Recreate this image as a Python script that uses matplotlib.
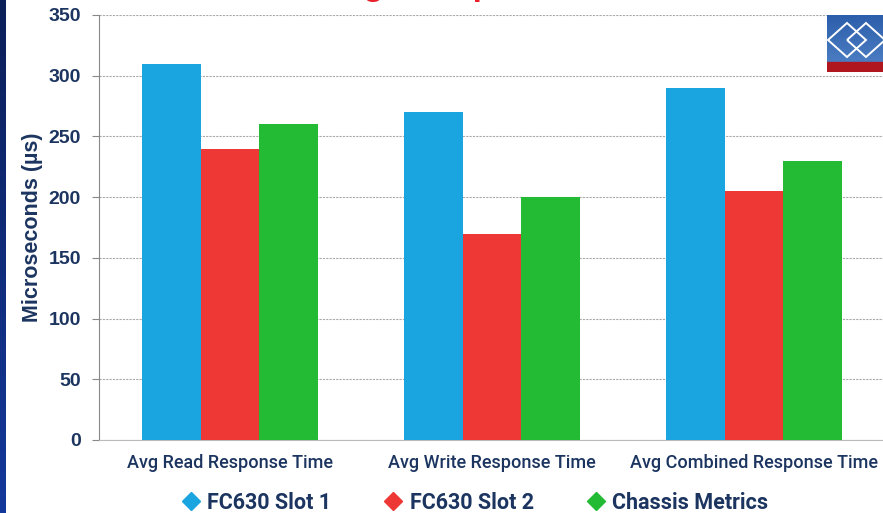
import matplotlib
matplotlib.use("Agg")
import matplotlib.pyplot as plt
from matplotlib.lines import Line2D
from matplotlib.patches import Polygon, Rectangle
from matplotlib.colors import LinearSegmentedColormap
import numpy as np

categories = ["Avg Read Response Time", "Avg Write Response Time",
              "Avg Combined Response Time"]
series_names = ["FC630 Slot 1", "FC630 Slot 2", "Chassis Metrics"]
slot1 = [310, 270, 290]
slot2 = [240, 170, 205]
chassis = [260, 200, 230]
y_ticks = [0, 50, 100, 150, 200, 250, 300, 350]

colors = ["#1aa5e1", "#ee3835", "#22bb33"]
navy = "#1c3560"

W, H = 883, 513
fig = plt.figure(figsize=(W / 100, H / 100), dpi=100)

# dark blue strip down the left edge
strip = fig.add_axes([0, 0, 6 / W, 1])
strip.imshow(np.linspace(0, 1, 256).reshape(-1, 1), aspect="auto",
             cmap=LinearSegmentedColormap.from_list("s", ["#0b1f58", "#14399c"]),
             extent=(0, 1, 0, 1), origin="upper")
strip.set_axis_off()

ax = fig.add_axes([99 / W, 73 / H, 786 / W, 425 / H])
x = np.arange(len(categories))
width = 0.2235
for i, vals in enumerate([slot1, slot2, chassis]):
    ax.bar(x + (i - 1) * width, vals, width, color=colors[i], zorder=3)

ax.set_xlim(-0.5, 2.5)
ax.set_ylim(0, 350)
ax.set_yticks(y_ticks)
ax.set_xticks(x)
ax.set_xticklabels(categories, family="Roboto", fontweight="medium",
                   fontsize=13, color=navy)
for lbl in ax.get_yticklabels():
    lbl.set_family("Liberation Sans")
    lbl.set_fontweight("bold")
    lbl.set_fontsize(14)
    lbl.set_color(navy)
ax.tick_params(axis="y", length=5, color="#888888", pad=8)
ax.tick_params(axis="x", length=0, pad=10)
ax.yaxis.grid(True, ls=(0, (2, 1)), color="#aaaaaa", lw=0.8, zorder=0)
ax.set_axisbelow(True)
for side in ["top", "right"]:
    ax.spines[side].set_visible(False)
ax.spines["left"].set_color("#888888")
ax.spines["bottom"].set_color("#bbbbbb")
ax.set_ylabel("Microseconds (µs)", family="Liberation Sans", fontsize=15.5,
              fontweight="bold", color=navy, labelpad=4)

handles = [Line2D([], [], ls="none", marker="D", markersize=9,
                  color=c) for c in colors]
leg = fig.legend(handles, series_names, loc="center", ncol=3,
                 bbox_to_anchor=(0.537, 10 / H), frameon=False,
                 prop={"family": "Roboto", "weight": "bold", "size": 15.5},
                 handletextpad=0.25, columnspacing=2.4, handlelength=1.0)
for t in leg.get_texts():
    t.set_color(navy)

# title sits mostly above the visible area
fig.text(0.315, 1.009, "Storage Response Times", color="#e8202a",
         fontsize=24, fontweight="bold", family="Liberation Sans",
         va="baseline", ha="left")

# logo in the top right corner
logo = fig.add_axes([827 / W, (H - 72) / H, 56 / W, 57 / H])
logo.set_xlim(827, 883)
logo.set_ylim(72, 15)
logo.imshow(np.linspace(0, 1, 64).reshape(-1, 1), aspect="auto",
            cmap=LinearSegmentedColormap.from_list("b", ["#2d5eab", "#4a7cc2"]),
            extent=(827, 883, 62, 15))
logo.add_patch(Rectangle((827, 62), 56, 10, color="#b0161e"))
for cx in [847, 866]:
    logo.add_patch(Polygon([[cx - 19, 40], [cx, 23], [cx + 19, 40], [cx, 57]],
                           closed=True, fill=False, ec="white", lw=1.4))
logo.set_axis_off()

fig.savefig("out.png", dpi=100)
